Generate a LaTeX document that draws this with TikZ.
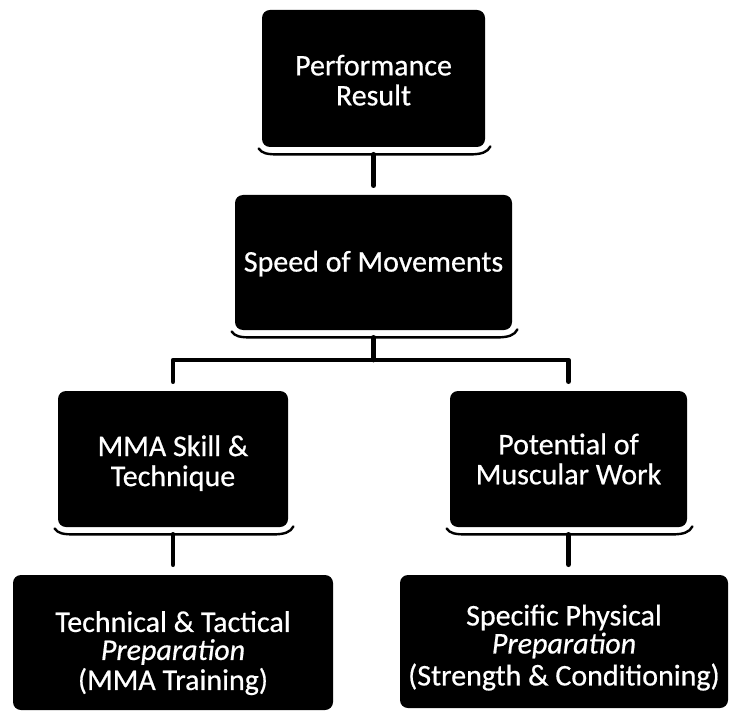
\documentclass[tikz,border=0pt]{standalone}
\usepackage{fontspec}
\setmainfont{Carlito}[FakeBold=0.6]
\usetikzlibrary{calc}
\tikzset{
  box/.style={fill=black, text=white, rounded corners=4pt, align=center,
    inner sep=0pt, font=\fontsize{15}{15}\selectfont},
  lowbox/.style={box, font=\fontsize{15}{14}\selectfont},
  conn/.style={line width=2.4pt, line cap=round, line join=round},
  curl/.style={line width=1.2pt, line cap=round}
}
% curled shadow line under a box
\newcommand{\curlunder}[1]{%
  \draw[curl] ($(#1.south west)+(-3,1)$) .. controls ($(#1.south west)+(0,6)$) and ($(#1.south west)+(6,7)$) .. ($(#1.south west)+(16,7)$)
    -- ($(#1.south east)+(-16,7)$) .. controls ($(#1.south east)+(-4,7)$) and ($(#1.south east)+(2,5)$) .. ($(#1.south east)+(5,-1)$);}
% invisible strut that lowers a box's text
\newcommand{\lift}[1]{\rule{0pt}{#1}}
\begin{document}
\begin{tikzpicture}[x=0.5pt, y=-0.5pt]
\useasboundingbox (0,0) rectangle (731,715);

\node[box, minimum width=111.5pt, minimum height=68.5pt] (p) at (373.5,78.5) {\lift{12pt}Performance\\Result};
\node[box, minimum width=138.5pt, minimum height=67.5pt] (s) at (373.5,262.5) {\lift{11.5pt}Speed of Movements};
\node[box, minimum width=115pt, minimum height=68pt] (m) at (173,459) {\lift{14.5pt}MMA Skill \&\\Technique};
\node[box, minimum width=118.5pt, minimum height=68pt] (w) at (568.5,459) {Potential of\\Muscular Work};
\node[lowbox, minimum width=160pt, minimum height=67.5pt] (t) at (173,642.5)
  {\lift{21pt}Technical \& Tactical\\\textit{Preparation}\\[1pt](MMA Training)};
\node[lowbox, minimum width=164pt, minimum height=66.5pt] (c) at (564,641.5)
  {\lift{16.5pt}Specific Physical\\\textit{Preparation}\\[2pt](Strength \& Conditioning)};

\curlunder{p}
\curlunder{s}
\curlunder{m}
\curlunder{w}

\coordinate (bus) at (373.5,360);

\draw[conn, shorten <=3.5pt, shorten >=4.5pt] (p.south) -- (s.north);
\draw[conn, shorten <=3.5pt] (s.south) -- (bus);
\draw[conn, shorten >=4.5pt] (bus) -| (m.north);
\draw[conn, shorten >=4.5pt] (bus) -| (w.north);
\draw[conn, shorten <=3.5pt, shorten >=5pt] (m.south) -- (m.south |- t.north);
\draw[conn, shorten <=3.5pt, shorten >=5pt] (w.south) -- (w.south |- c.north);
\end{tikzpicture}
\end{document}
